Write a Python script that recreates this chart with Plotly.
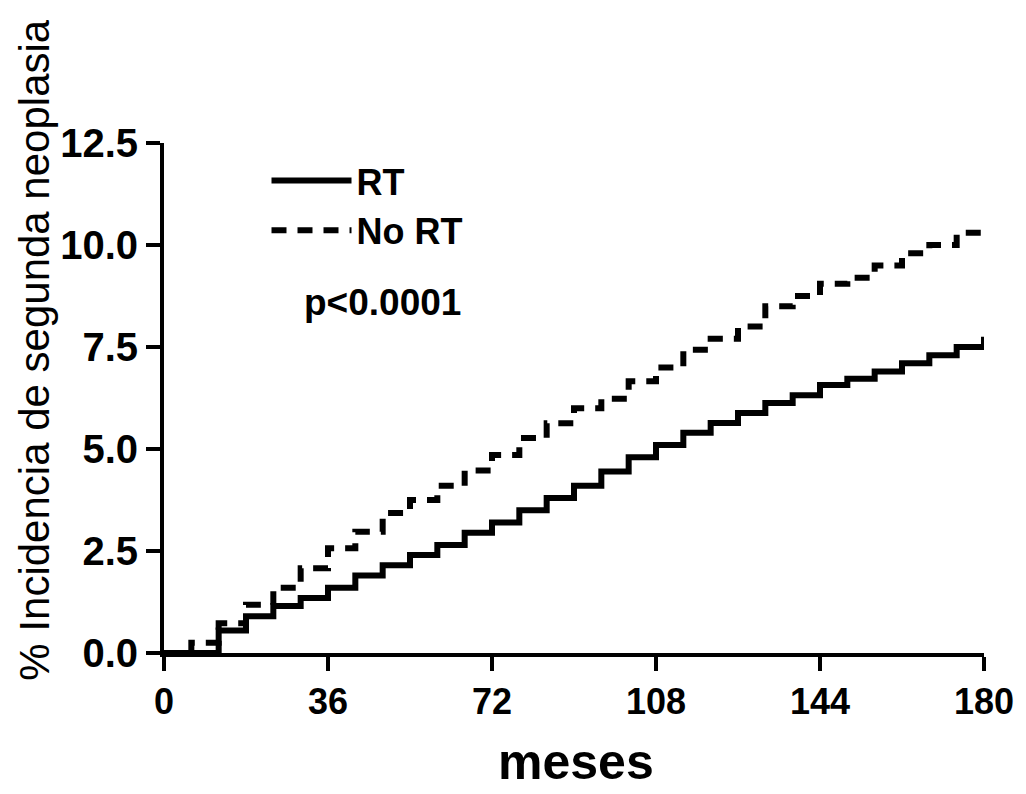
import plotly.graph_objects as go

# Months at which each cumulative-incidence step occurs, and the level after the step
rt_months = [0, 12, 18, 24, 30, 36, 42, 48, 54, 60, 66, 72, 78, 84, 90, 96, 102,
             108, 114, 120, 126, 132, 138, 144, 150, 156, 162, 168, 174, 180]
rt_values = [0, 0.55, 0.9, 1.15, 1.35, 1.6, 1.9, 2.15, 2.4, 2.65, 2.95, 3.2, 3.5,
             3.8, 4.1, 4.45, 4.8, 5.1, 5.4, 5.64, 5.88, 6.13, 6.32, 6.57, 6.72,
             6.9, 7.1, 7.3, 7.5, 7.75]

nort_months = [0, 6, 12, 18, 24, 30, 36, 42, 48, 54, 60, 66, 72, 78, 84, 90, 96,
               102, 108, 114, 120, 126, 132, 138, 144, 150, 156, 162, 168, 174, 180]
nort_values = [0, 0.25, 0.73, 1.18, 1.6, 2.08, 2.57, 2.97, 3.43, 3.75, 4.1, 4.47,
               4.85, 5.27, 5.63, 6.0, 6.23, 6.66, 7.0, 7.43, 7.7, 8.0, 8.5, 8.75,
               9.05, 9.2, 9.5, 9.8, 10.0, 10.3, 10.35]

x_ticks = [0, 36, 72, 108, 144, 180]
y_ticks = [0, 2.5, 5.0, 7.5, 10.0, 12.5]
y_tick_labels = ["0.0", "2.5", "5.0", "7.5", "10.0", "12.5"]

FONT = "Liberation Sans, Arial, sans-serif"

fig = go.Figure()
fig.add_trace(go.Scatter(
    x=rt_months, y=rt_values, mode="lines", name="RT",
    line=dict(color="black", width=6, shape="hv"),
))
fig.add_trace(go.Scatter(
    x=nort_months, y=nort_values, mode="lines", name="No RT",
    line=dict(color="black", width=6, shape="hv", dash="15px,11px"),
))

fig.update_layout(
    width=1026, height=794,
    margin=dict(l=164, r=38, t=143, b=141),
    paper_bgcolor="white", plot_bgcolor="white",
    showlegend=True,
    legend=dict(
        x=0.125, y=0.985, xanchor="left", yanchor="top",
        bgcolor="rgba(0,0,0,0)", itemwidth=80,
        font=dict(family=FONT, size=36, color="black", weight="bold"),
        tracegroupgap=0, traceorder="normal",
    ),
    xaxis=dict(
        range=[0, 180], tickvals=x_ticks, ticktext=[str(t) for t in x_ticks],
        showline=True, linecolor="black", linewidth=4, mirror=False,
        ticks="outside", ticklen=14, tickwidth=4, tickcolor="black",
        showgrid=False, zeroline=False,
        tickfont=dict(family=FONT, size=36, color="black", weight="bold"),
    ),
    yaxis=dict(
        range=[0, 12.5], tickvals=y_ticks, ticktext=y_tick_labels,
        showline=True, linecolor="black", linewidth=4,
        ticks="outside", ticklen=14, tickwidth=4, tickcolor="black",
        showgrid=False, zeroline=False,
        tickfont=dict(family=FONT, size=40, color="black", weight="bold"),
    ),
    annotations=[
        dict(text="p<0.0001", xref="paper", yref="paper",
             x=(303 - 164) / 824, y=(653 - 302) / 510,
             xanchor="left", yanchor="middle", showarrow=False,
             font=dict(family=FONT, size=37, color="black", weight="bold")),
        dict(text="meses", xref="paper", yref="paper",
             x=(578 - 164) / 824, y=(653 - 792) / 510,
             xanchor="center", yanchor="bottom", showarrow=False,
             font=dict(family=FONT, size=50, color="black", weight="bold")),
        dict(text="% Incidencia de segunda neoplasia", xref="paper", yref="paper",
             x=(33 - 164) / 824, y=(653 - 350) / 510, textangle=-90,
             xanchor="center", yanchor="middle", showarrow=False,
             font=dict(family=FONT, size=42, color="black")),
    ],
)

fig.write_html("out.html")
